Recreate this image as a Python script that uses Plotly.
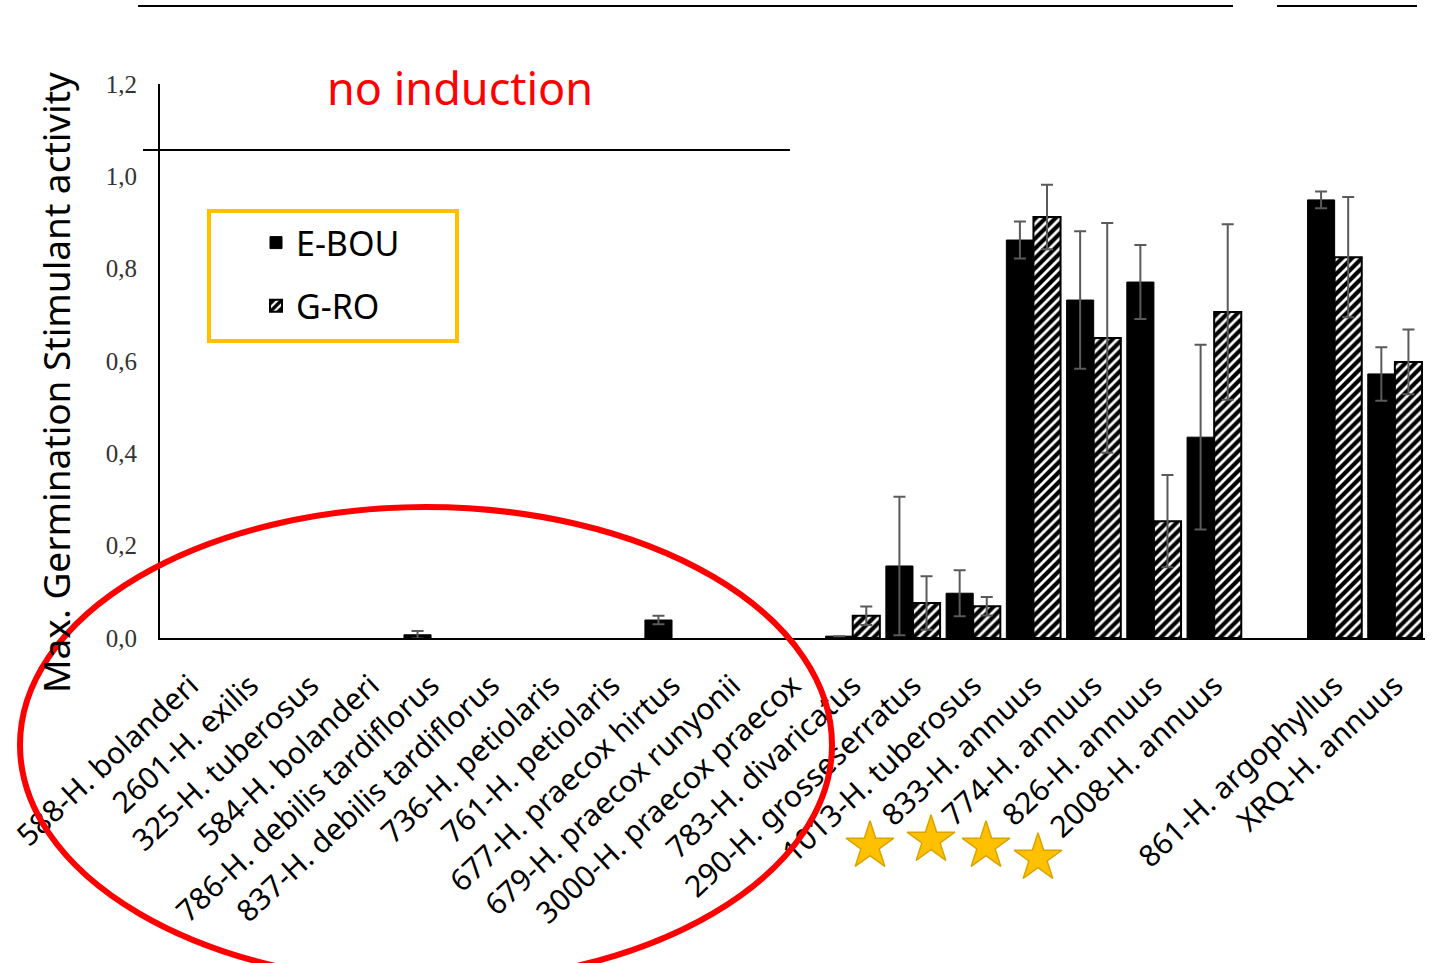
import plotly.graph_objects as go

W, H = 1435, 963

categories = [
    "588-H. bolanderi", "2601-H. exilis", "325-H. tuberosus", "584-H. bolanderi",
    "786-H. debilis tardiflorus", "837-H. debilis tardiflorus", "736-H. petiolaris",
    "761-H. petiolaris", "677-H. praecox hirtus", "679-H. praecox runyonii",
    "3000-H. praecox praecox", "783-H. divaricatus", "290-H. grosseserratus",
    "1013-H. tuberosus", "833-H. annuus", "774-H. annuus", "826-H. annuus",
    "2008-H. annuus", " ", "861-H. argophyllus", "XRQ-H. annuus",
]
e_bou = [None, None, None, None, 0.007, None, None, None, 0.039, None, None,
         0.004, 0.156, 0.097, 0.862, 0.732, 0.771, 0.435, None, 0.949, 0.572]
e_bou_err = [0, 0, 0, 0, 0.008, 0, 0, 0, 0.009, 0, 0,
             0, 0.15, 0.05, 0.04, 0.149, 0.08, 0.2, 0, 0.018, 0.058]
g_ro = [None, None, None, None, None, None, None, None, None, None, None,
        0.048, 0.076, 0.069, 0.912, 0.65, 0.253, 0.706, None, 0.825, 0.598]
g_ro_err = [0, 0, 0, 0, 0, 0, 0, 0, 0, 0, 0,
            0.02, 0.058, 0.02, 0.07, 0.249, 0.1, 0.19, 0, 0.13, 0.07]

star_x = [870, 931, 986, 1038]
star_y = [846, 840, 846, 858]

FONT = "Noto Sans"

def px(x):
    return x / W

def py(y):
    return 1 - y / H

fig = go.Figure()
fig.add_trace(go.Bar(
    x=categories, y=e_bou, name="E-BOU", legendgroup="a",
    marker=dict(color="black", line=dict(color="black", width=1)),
    error_y=dict(type="data", array=e_bou_err, color="#5a5a5a", thickness=2, width=6),
))
fig.add_trace(go.Bar(
    x=categories, y=g_ro, name="G-RO", legendgroup="b",
    marker=dict(color="white", line=dict(color="black", width=2),
                pattern=dict(shape="/", fgcolor="black", bgcolor="white",
                             fgopacity=1, size=7, solidity=0.6)),
    error_y=dict(type="data", array=g_ro_err, color="#5a5a5a", thickness=2, width=6),
))
fig.add_trace(go.Scatter(
    x=star_x, y=star_y, xaxis="x2", yaxis="y2", mode="markers", showlegend=False,
    marker=dict(symbol="star", size=36, color="#FFC000",
                line=dict(color="#D9A400", width=1.5)),
    hoverinfo="skip",
))

fig.update_layout(
    width=W, height=H,
    margin=dict(l=0, r=0, t=0, b=0, autoexpand=False),
    paper_bgcolor="white", plot_bgcolor="rgba(0,0,0,0)",
    separators=", ",
    barmode="group", bargap=0.1, bargroupgap=0,
    font=dict(family=FONT, color="black"),
    xaxis=dict(
        domain=[px(160), px(1425)], range=[-0.5, 20.5],
        categoryorder="array", categoryarray=categories,
        tickangle=-43, tickfont=dict(family=FONT, size=30, color="black"),
        showline=True, linecolor="black", linewidth=2, ticks="",
        ticklabelstandoff=16, showgrid=False, automargin=False, anchor="y",
    ),
    yaxis=dict(
        domain=[py(638), py(84)], range=[0, 1.2], dtick=0.2, tickformat=".1f",
        tickfont=dict(family="Liberation Serif", size=25, color="#333333"),
        showline=True, linecolor="black", linewidth=2, ticks="",
        ticklabelstandoff=16, showgrid=False, zeroline=False, automargin=False,
        anchor="x",
    ),
    xaxis2=dict(domain=[0, 1], range=[0, W], visible=False, anchor="y2", fixedrange=True),
    yaxis2=dict(domain=[0, 1], range=[H, 0], visible=False, anchor="x2", fixedrange=True),
    legend=dict(
        x=px(256), y=py(214), xanchor="left", yanchor="top",
        font=dict(family=FONT, size=34, color="black"),
        bgcolor="rgba(0,0,0,0)", borderwidth=0, tracegroupgap=16,
    ),
    showlegend=True,
)

shapes = [
    dict(type="rect", xref="paper", yref="paper", x0=px(209), x1=px(457),
         y0=py(211), y1=py(341), line=dict(color="#FFC000", width=4)),
    dict(type="line", xref="paper", yref="paper", x0=px(143), x1=px(790),
         y0=py(150), y1=py(150), line=dict(color="black", width=2)),
    dict(type="line", xref="paper", yref="paper", x0=px(138), x1=px(1233),
         y0=py(6), y1=py(6), line=dict(color="black", width=2)),
    dict(type="line", xref="paper", yref="paper", x0=px(1277), x1=px(1417),
         y0=py(6), y1=py(6), line=dict(color="black", width=2)),
    dict(type="circle", xref="paper", yref="paper", x0=px(20), x1=px(832),
         y0=py(507), y1=py(983), line=dict(color="#FF0000", width=6)),
]
fig.update_layout(shapes=shapes)

fig.add_annotation(
    text="Max. Germination Stimulant activity", xref="paper", yref="paper",
    x=px(55), y=py(383), textangle=-90, showarrow=False,
    font=dict(family=FONT, size=37, color="black"), xanchor="center", yanchor="middle",
)
fig.add_annotation(
    text="no induction", xref="paper", yref="paper",
    x=px(460), y=py(87), showarrow=False,
    font=dict(family=FONT, size=45, color="#FF0000"), xanchor="center", yanchor="middle",
)

fig.write_html("out.html", config={"displayModeBar": False},
               post_script="document.body.style.margin='0px';")
